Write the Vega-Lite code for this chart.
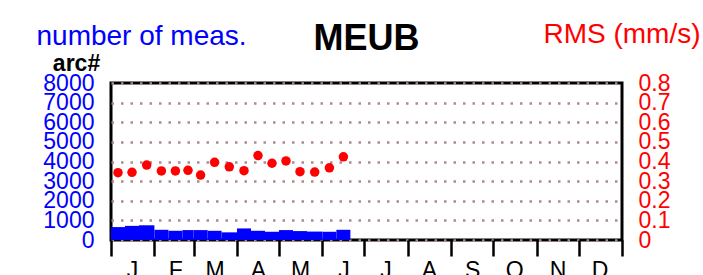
{
  "$schema": "https://vega.github.io/schema/vega-lite/v6.json",
  "width": 511,
  "height": 157,
  "autosize": {"type": "none"},
  "padding": {"left": 111, "top": 83, "right": 81, "bottom": 35},
  "background": "white",
  "config": {
    "font": "Liberation Sans",
    "view": {"stroke": "black", "strokeWidth": 3}
  },
  "title": {
    "text": "MEUB",
    "fontSize": 36,
    "fontWeight": "bold",
    "color": "black",
    "anchor": "middle",
    "frame": "group",
    "offset": 4,
    "dy": 42
  },
  "data": {
    "values": [
      {"start": 0, "end": 10, "mid": 5, "n": 658, "rms": 0.343},
      {"start": 10, "end": 20, "mid": 15, "n": 720, "rms": 0.345},
      {"start": 20, "end": 31, "mid": 25.5, "n": 750, "rms": 0.382},
      {"start": 31, "end": 41, "mid": 36, "n": 520, "rms": 0.352},
      {"start": 41, "end": 51, "mid": 46, "n": 470, "rms": 0.352},
      {"start": 51, "end": 59, "mid": 55, "n": 505, "rms": 0.355},
      {"start": 59, "end": 69, "mid": 64, "n": 505, "rms": 0.331},
      {"start": 69, "end": 79, "mid": 74, "n": 470, "rms": 0.396},
      {"start": 79, "end": 90, "mid": 84.5, "n": 390, "rms": 0.373},
      {"start": 90, "end": 100, "mid": 95, "n": 590, "rms": 0.353},
      {"start": 100, "end": 110, "mid": 105, "n": 470, "rms": 0.43},
      {"start": 110, "end": 120, "mid": 115, "n": 420, "rms": 0.391},
      {"start": 120, "end": 130, "mid": 125, "n": 505, "rms": 0.403},
      {"start": 130, "end": 140, "mid": 135, "n": 455, "rms": 0.348},
      {"start": 140, "end": 151, "mid": 145.5, "n": 430, "rms": 0.346},
      {"start": 151, "end": 161, "mid": 156, "n": 420, "rms": 0.368},
      {"start": 161, "end": 171, "mid": 166, "n": 520, "rms": 0.424}
    ]
  },
  "layer": [
    {
      "mark": {"type": "rect", "color": "#0000ff"},
      "encoding": {
        "x": {
          "field": "start",
          "type": "quantitative",
          "scale": {"domain": [0, 365], "nice": false, "zero": false},
          "axis": {
            "values": [0, 31, 59, 90, 120, 151, 181, 212, 243, 273, 304, 334, 365],
            "labelExpr": "['J','F','M','A','M','J','J','A','S','O','N','D',''][indexof([0,31,59,90,120,151,181,212,243,273,304,334,365], datum.value)]",
            "grid": false,
            "domain": false,
            "ticks": true,
            "tickColor": "black",
            "tickWidth": 2.5,
            "tickSize": 16,
            "labelOffset": 21,
            "labelFontSize": 23,
            "labelColor": "black",
            "labelBaseline": "top",
            "labelPadding": 3,
            "labelFlush": false,
            "labelOverlap": false,
            "title": "arc#",
            "titleX": -35,
            "titleY": -170,
            "titleAlign": "center",
            "titleBaseline": "alphabetic",
            "titleFontSize": 23,
            "titleFontWeight": "bold",
            "titleColor": "black"
          }
        },
        "x2": {"field": "end"},
        "y": {
          "field": "n",
          "type": "quantitative",
          "scale": {"domain": [0, 8000], "nice": false},
          "axis": {
            "orient": "left",
            "values": [0, 1000, 2000, 3000, 4000, 5000, 6000, 7000, 8000],
            "format": "d",
            "labelColor": "#0000ff",
            "labelFontSize": 23,
            "labelPadding": 17,
            "labelBaseline": "middle",
            "labelOverlap": false,
            "labelFlush": false,
            "ticks": false,
            "domain": false,
            "grid": true,
            "gridColor": "#b08a8a",
            "gridWidth": 2.5,
            "gridDash": [2.5, 7],
            "title": "number of meas.",
            "titleColor": "#0000ff",
            "titleFontSize": 28,
            "titleFontWeight": "normal",
            "titleAngle": 0,
            "titleAlign": "left",
            "titleBaseline": "alphabetic",
            "titleX": -75,
            "titleY": -39
          }
        },
        "y2": {"datum": 0}
      }
    },
    {
      "mark": {"type": "circle", "color": "#ff0000", "size": 90, "opacity": 1},
      "encoding": {
        "x": {"field": "mid", "type": "quantitative"},
        "y": {
          "field": "rms",
          "type": "quantitative",
          "scale": {"domain": [0, 0.8], "nice": false},
          "axis": {
            "orient": "right",
            "values": [0, 0.1, 0.2, 0.3, 0.4, 0.5, 0.6, 0.7, 0.8],
            "format": ".1~f",
            "labelColor": "#ff0000",
            "labelFontSize": 23,
            "labelPadding": 16,
            "labelAlign": "left",
            "labelBaseline": "middle",
            "labelOverlap": false,
            "labelFlush": false,
            "ticks": false,
            "domain": false,
            "grid": false,
            "title": "RMS (mm/s)",
            "titleColor": "#ff0000",
            "titleFontSize": 28,
            "titleFontWeight": "normal",
            "titleAngle": 0,
            "titleAlign": "right",
            "titleBaseline": "alphabetic",
            "titleX": 78,
            "titleY": -41
          }
        }
      }
    }
  ],
  "resolve": {"scale": {"y": "independent"}}
}
